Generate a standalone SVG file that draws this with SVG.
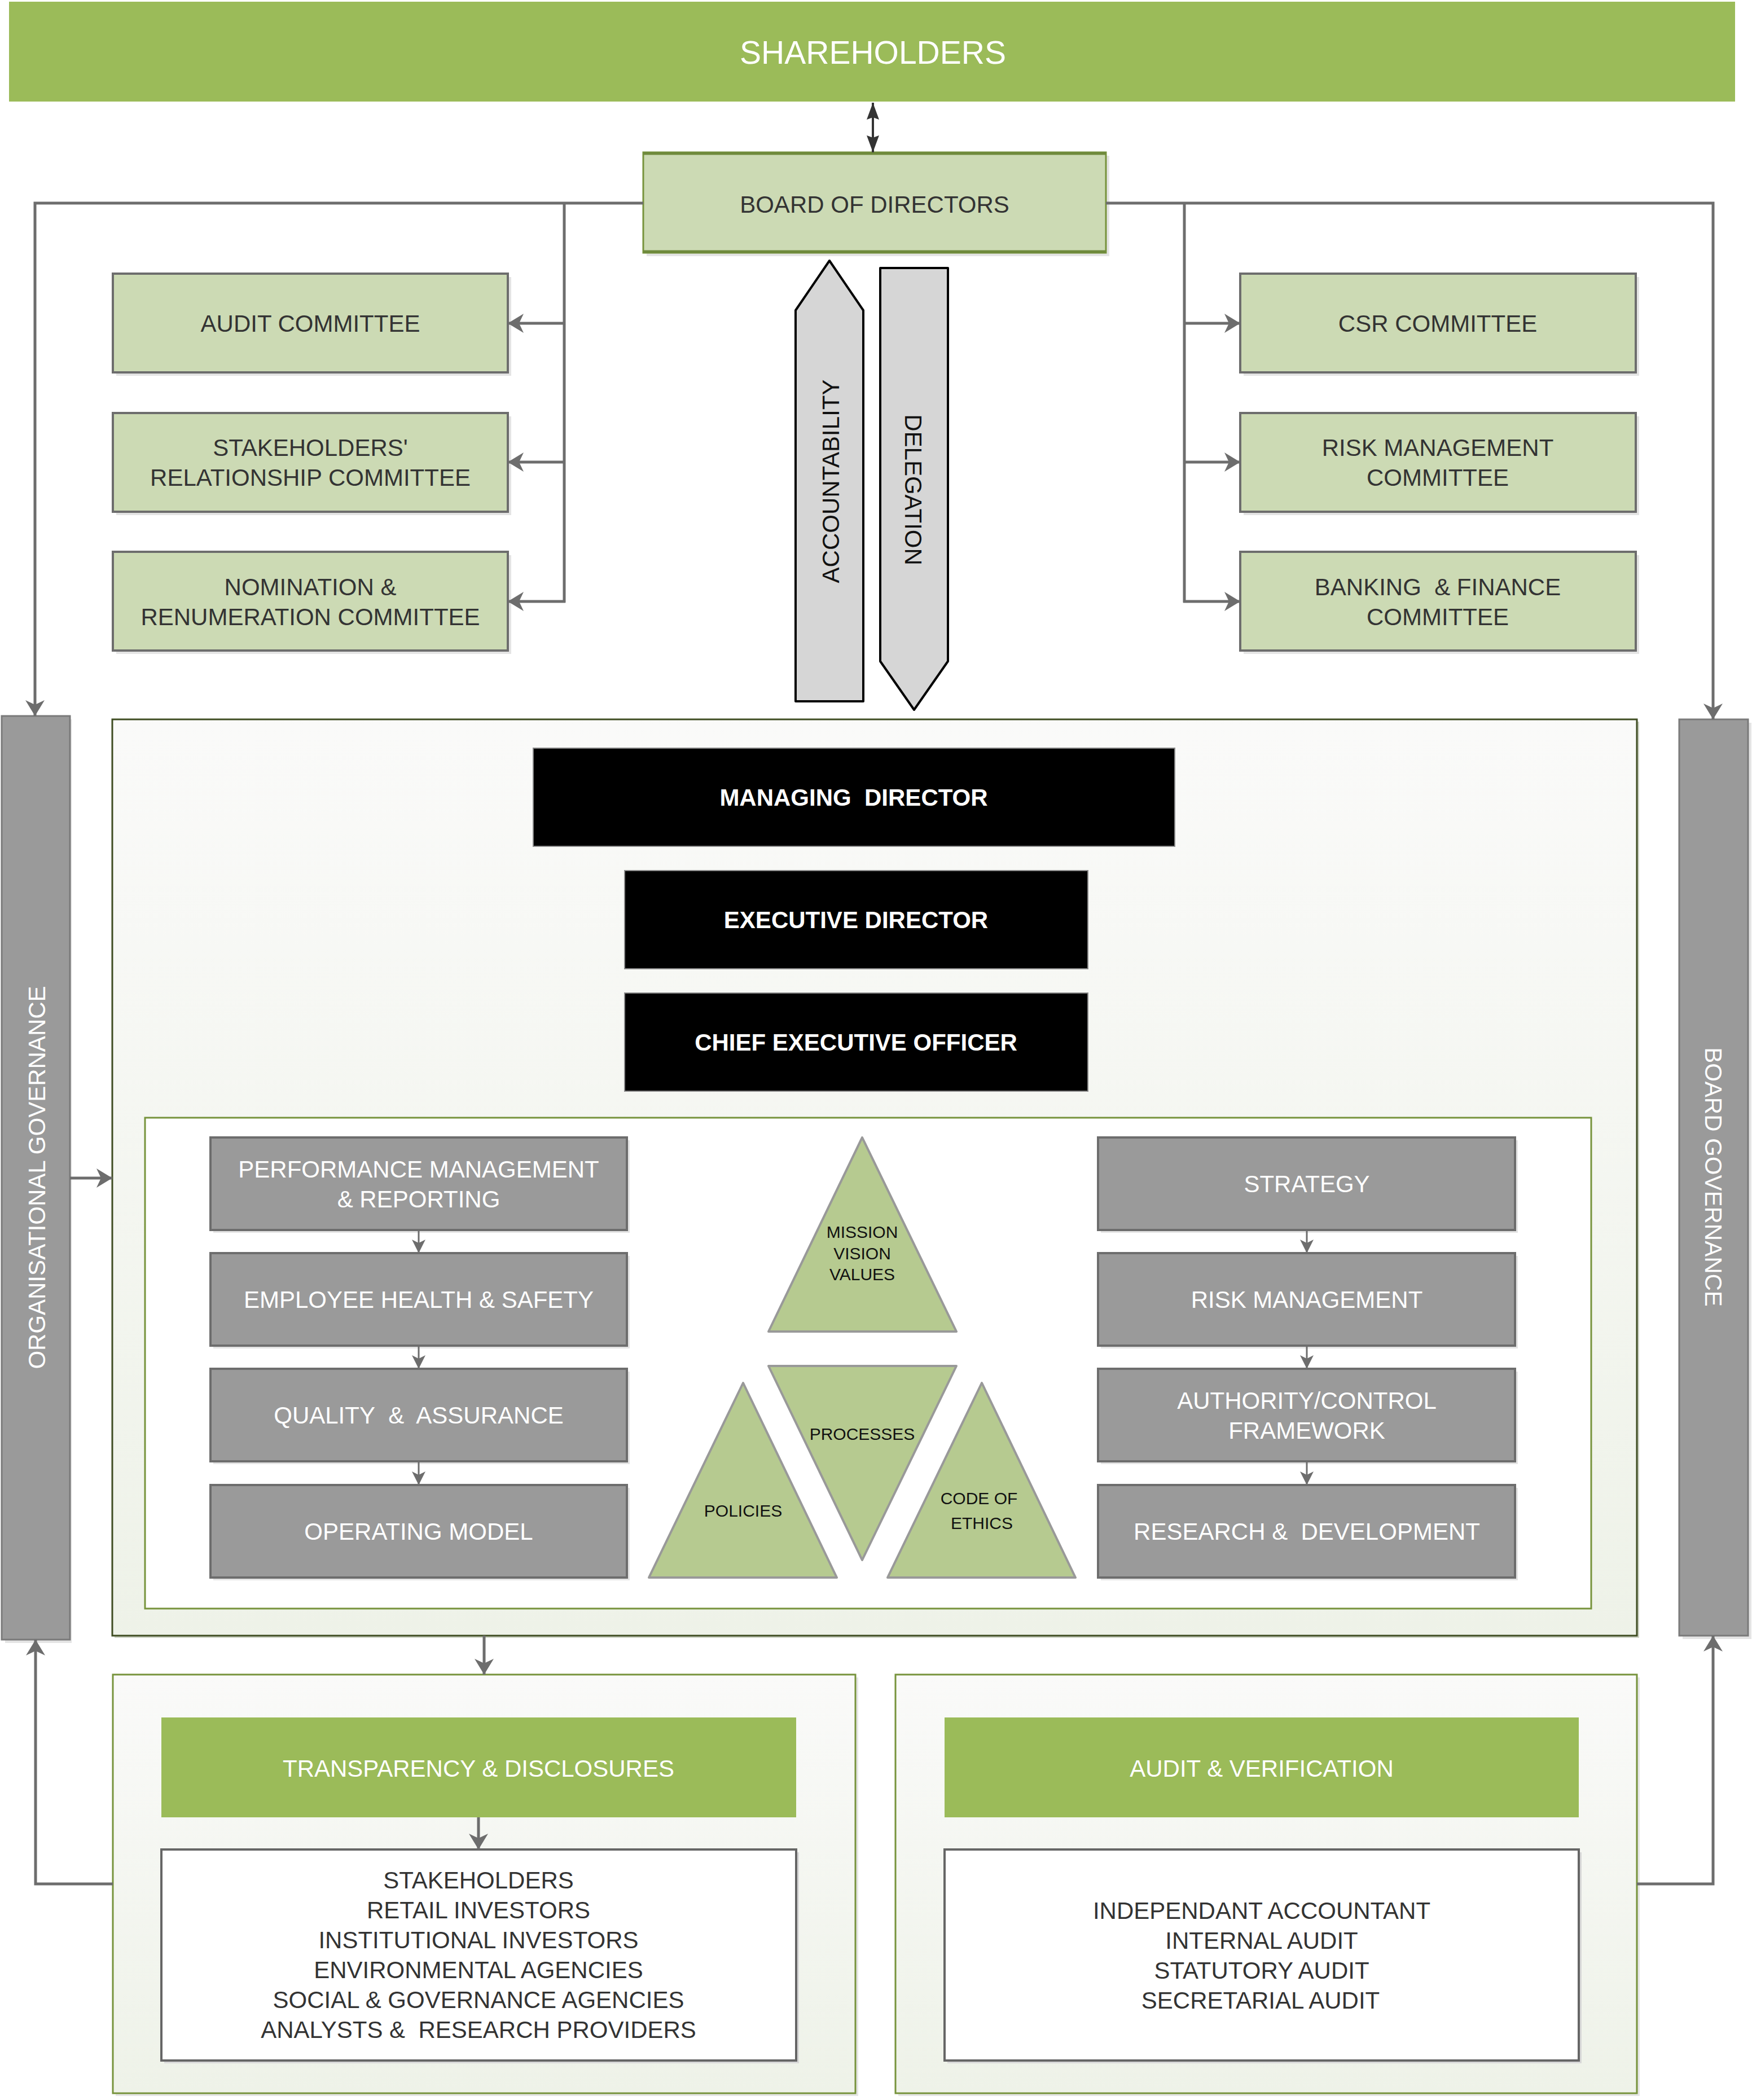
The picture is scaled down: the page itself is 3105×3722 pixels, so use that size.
<svg xmlns="http://www.w3.org/2000/svg" width="3105" height="3722" viewBox="0 0 3105 3722">
<style>
text{font-family:"Liberation Sans",Arial,Helvetica,sans-serif;text-anchor:middle;dominant-baseline:central;white-space:pre}
.t42{font-size:42px;fill:#333}
.w42{font-size:42px;fill:#fff}
.b42{font-size:42px;fill:#fff;font-weight:bold}
.k30{font-size:30px;fill:#111}
.k42{font-size:42px;fill:#111}
.comm{fill:#ccdab4;stroke:#6d6d6d;stroke-width:4}
.gbox{fill:#9a9a9a;stroke:#6d6d6d;stroke-width:4}
.blk{fill:#000;stroke:#8a8a8a;stroke-width:2}
.bar{fill:#9a9a9a;stroke:#7a7a7a;stroke-width:3}
.sh{fill:#e4e4e4}
.tri{fill:#b6ca90;stroke:#999;stroke-width:4;stroke-linejoin:round}
.ban{fill:#9bbb59}
.wbox{fill:#fff;stroke:#666;stroke-width:4}
.cont{stroke:#77933c;stroke-width:3}
.con{fill:none;stroke:#6d6d6d;stroke-width:5}
.cons{fill:none;stroke:#6d6d6d;stroke-width:3}
.pen{fill:#d6d6d6;stroke:#000;stroke-width:4;stroke-linejoin:round}
</style>
<defs>
<linearGradient id="gr" x1="0" y1="0" x2="0" y2="1">
<stop offset="0" stop-color="#fafaf9"/>
<stop offset="1" stop-color="#eef2e8"/>
</linearGradient>
<marker id="ah" markerWidth="30" markerHeight="36" refX="28" refY="18" orient="auto" markerUnits="userSpaceOnUse">
<path d="M28,18 L0,1 L8,18 L0,35 z" fill="#6d6d6d"/>
</marker>
<marker id="ahs" markerWidth="26" markerHeight="26" refX="24" refY="13" orient="auto" markerUnits="userSpaceOnUse">
<path d="M24,13 L0,1 L6,13 L0,25 z" fill="#6d6d6d"/>
</marker>
<marker id="ahd" markerWidth="32" markerHeight="24" refX="30" refY="12" orient="auto-start-reverse" markerUnits="userSpaceOnUse">
<path d="M30,12 L0,1 L4,12 L0,23 z" fill="#333"/>
</marker>
</defs>
<rect width="3105" height="3722" fill="#fff"/>

<g id="shareholders">
<rect x="16" y="3" width="3059" height="177" class="ban"/>
<text x="1547" y="93" style="font-size:57px;fill:#fff">SHAREHOLDERS</text>
</g>

<g id="board-of-directors">
<rect x="1146" y="276" width="820" height="178" class="sh"/>
<rect x="1140" y="270" width="820" height="178" fill="#ccdab4" stroke="#77933c" stroke-width="3"/>
<line x1="1140" y1="272" x2="1960" y2="272" stroke="#6f8a3c" stroke-width="5"/>
<line x1="1140" y1="446" x2="1960" y2="446" stroke="#6f8a3c" stroke-width="5"/>
<text x="1550" y="362" class="t42">BOARD OF DIRECTORS</text>
</g>

<g id="audit-committee">
<rect x="206" y="491" width="700" height="175" class="sh"/>
<rect x="200" y="485" width="700" height="175" class="comm"/>
<text x="550" y="573" class="t42">AUDIT COMMITTEE</text>
</g>
<g id="stakeholders-relationship-committee">
<rect x="206" y="738" width="700" height="175" class="sh"/>
<rect x="200" y="732" width="700" height="175" class="comm"/>
<text x="550" y="793" class="t42">STAKEHOLDERS'</text>
<text x="550" y="846" class="t42">RELATIONSHIP COMMITTEE</text>
</g>
<g id="nomination-committee">
<rect x="206" y="984" width="700" height="175" class="sh"/>
<rect x="200" y="978" width="700" height="175" class="comm"/>
<text x="550" y="1040" class="t42">NOMINATION &amp;</text>
<text x="550" y="1093" class="t42">RENUMERATION COMMITTEE</text>
</g>

<g id="csr-committee">
<rect x="2204" y="491" width="701" height="175" class="sh"/>
<rect x="2198" y="485" width="701" height="175" class="comm"/>
<text x="2548" y="573" class="t42">CSR COMMITTEE</text>
</g>
<g id="risk-management-committee">
<rect x="2204" y="738" width="701" height="175" class="sh"/>
<rect x="2198" y="732" width="701" height="175" class="comm"/>
<text x="2548" y="793" class="t42">RISK MANAGEMENT</text>
<text x="2548" y="846" class="t42">COMMITTEE</text>
</g>
<g id="banking-finance-committee">
<rect x="2204" y="984" width="701" height="175" class="sh"/>
<rect x="2198" y="978" width="701" height="175" class="comm"/>
<text x="2548" y="1040" class="t42">BANKING&#160; &amp; FINANCE</text>
<text x="2548" y="1093" class="t42">COMMITTEE</text>
</g>

<g id="accountability">
<polygon points="1470,462 1530,550 1530,1243 1410,1243 1410,550" class="pen"/>
<text transform="translate(1472,853) rotate(-90)" class="k42">ACCOUNTABILITY</text>
</g>
<g id="delegation">
<polygon points="1560,475 1680,475 1680,1172 1620,1258 1560,1172" class="pen"/>
<text transform="translate(1618,868) rotate(90)" class="k42">DELEGATION</text>
</g>

<g id="organisational-governance">
<rect x="9" y="1275" width="118" height="1637" class="sh"/>
<rect x="3" y="1269" width="121" height="1637" class="bar"/>
<text transform="translate(65,2087) rotate(-90)" class="w42">ORGANISATIONAL GOVERNANCE</text>
</g>
<g id="board-governance">
<rect x="2982" y="1281" width="122" height="1624" class="sh"/>
<rect x="2976" y="1275" width="122" height="1624" class="bar"/>
<text transform="translate(3036,2086) rotate(90)" class="w42">BOARD GOVERNANCE</text>
</g>

<g id="management-container">
<rect x="203" y="1279" width="2702" height="1624" fill="#cfd5c6"/>
<rect x="199" y="1275" width="2702" height="1624" fill="url(#gr)" stroke="#3f4d22" stroke-width="3"/>
<rect x="257" y="1981" width="2563" height="870" fill="#fff" class="cont"/>
</g>

<g id="managing-director">
<rect x="945" y="1326" width="1137" height="174" class="blk"/>
<text x="1513" y="1413" class="b42">MANAGING&#160; DIRECTOR</text>
</g>
<g id="executive-director">
<rect x="1107" y="1543" width="821" height="174" class="blk"/>
<text x="1517" y="1630" class="b42">EXECUTIVE DIRECTOR</text>
</g>
<g id="chief-executive-officer">
<rect x="1107" y="1760" width="821" height="174" class="blk"/>
<text x="1517" y="1847" class="b42">CHIEF EXECUTIVE OFFICER</text>
</g>

<g id="performance-management">
<rect x="378" y="2021" width="738" height="164" class="sh"/>
<rect x="373" y="2016" width="738" height="164" class="gbox"/>
<text x="742" y="2072" class="w42">PERFORMANCE MANAGEMENT</text>
<text x="742" y="2125" class="w42">&amp; REPORTING</text>
</g>
<g id="employee-health-safety">
<rect x="378" y="2226" width="738" height="164" class="sh"/>
<rect x="373" y="2221" width="738" height="164" class="gbox"/>
<text x="742" y="2303" class="w42">EMPLOYEE HEALTH &amp; SAFETY</text>
</g>
<g id="quality-assurance">
<rect x="378" y="2431" width="738" height="164" class="sh"/>
<rect x="373" y="2426" width="738" height="164" class="gbox"/>
<text x="742" y="2508" class="w42">QUALITY&#160; &amp;&#160; ASSURANCE</text>
</g>
<g id="operating-model">
<rect x="378" y="2637" width="738" height="164" class="sh"/>
<rect x="373" y="2632" width="738" height="164" class="gbox"/>
<text x="742" y="2714" class="w42">OPERATING MODEL</text>
</g>

<g id="strategy">
<rect x="1951" y="2021" width="739" height="164" class="sh"/>
<rect x="1946" y="2016" width="739" height="164" class="gbox"/>
<text x="2316" y="2098" class="w42">STRATEGY</text>
</g>
<g id="risk-management">
<rect x="1951" y="2226" width="739" height="164" class="sh"/>
<rect x="1946" y="2221" width="739" height="164" class="gbox"/>
<text x="2316" y="2303" class="w42">RISK MANAGEMENT</text>
</g>
<g id="authority-control-framework">
<rect x="1951" y="2431" width="739" height="164" class="sh"/>
<rect x="1946" y="2426" width="739" height="164" class="gbox"/>
<text x="2316" y="2482" class="w42">AUTHORITY/CONTROL</text>
<text x="2316" y="2535" class="w42">FRAMEWORK</text>
</g>
<g id="research-development">
<rect x="1951" y="2637" width="739" height="164" class="sh"/>
<rect x="1946" y="2632" width="739" height="164" class="gbox"/>
<text x="2316" y="2714" class="w42">RESEARCH &amp;&#160; DEVELOPMENT</text>
</g>

<g id="mission-vision-values">
<polygon points="1528,2016 1695,2360 1362,2360" class="tri"/>
<text x="1528" y="2183" class="k30">MISSION</text>
<text x="1528" y="2221" class="k30">VISION</text>
<text x="1528" y="2258" class="k30">VALUES</text>
</g>
<g id="processes">
<polygon points="1362,2421 1695,2421 1528,2765" class="tri"/>
<text x="1528" y="2541" class="k30">PROCESSES</text>
</g>
<g id="policies">
<polygon points="1317,2451 1483,2796 1150,2796" class="tri"/>
<text x="1317" y="2677" class="k30">POLICIES</text>
</g>
<g id="code-of-ethics">
<polygon points="1740,2451 1906,2796 1573,2796" class="tri"/>
<text x="1735" y="2655" class="k30">CODE OF</text>
<text x="1740" y="2699" class="k30">ETHICS</text>
</g>

<g id="transparency-disclosures">
<rect x="205" y="2973" width="1316" height="742" fill="#e6e6e6"/>
<rect x="200" y="2968" width="1316" height="742" fill="url(#gr)" class="cont"/>
<rect x="286" y="3044" width="1125" height="177" class="ban"/>
<text x="848" y="3134" class="w42">TRANSPARENCY &amp; DISCLOSURES</text>
<rect x="291" y="3283" width="1125" height="374" fill="#d8d8d8"/>
<rect x="286" y="3278" width="1125" height="374" class="wbox"/>
<text x="848" y="3332" class="t42">STAKEHOLDERS</text>
<text x="848" y="3385" class="t42">RETAIL INVESTORS</text>
<text x="848" y="3438" class="t42">INSTITUTIONAL INVESTORS</text>
<text x="848" y="3491" class="t42">ENVIRONMENTAL AGENCIES</text>
<text x="848" y="3544" class="t42">SOCIAL &amp; GOVERNANCE AGENCIES</text>
<text x="848" y="3597" class="t42">ANALYSTS &amp;&#160; RESEARCH PROVIDERS</text>
</g>

<g id="audit-verification">
<rect x="1592" y="2973" width="1314" height="742" fill="#e6e6e6"/>
<rect x="1587" y="2968" width="1314" height="742" fill="url(#gr)" class="cont"/>
<rect x="1674" y="3044" width="1124" height="177" class="ban"/>
<text x="2236" y="3134" class="w42">AUDIT &amp; VERIFICATION</text>
<rect x="1679" y="3283" width="1124" height="374" fill="#d8d8d8"/>
<rect x="1674" y="3278" width="1124" height="374" class="wbox"/>
<text x="2236" y="3386" class="t42">INDEPENDANT ACCOUNTANT</text>
<text x="2236" y="3439" class="t42">INTERNAL AUDIT</text>
<text x="2236" y="3492" class="t42">STATUTORY AUDIT</text>
<text x="2234" y="3545" class="t42">SECRETARIAL AUDIT</text>
</g>

<g id="connectors">
<line x1="1547" y1="182" x2="1547" y2="270" stroke="#333" stroke-width="4" marker-start="url(#ahd)" marker-end="url(#ahd)"/>
<polyline points="1140,360 62,360 62,1269" class="con" marker-end="url(#ah)"/>
<line x1="1000" y1="360" x2="1000" y2="1068" class="con"/>
<line x1="1002" y1="573" x2="900" y2="573" class="con" marker-end="url(#ah)"/>
<line x1="1002" y1="819" x2="900" y2="819" class="con" marker-end="url(#ah)"/>
<line x1="1002" y1="1066" x2="900" y2="1066" class="con" marker-end="url(#ah)"/>
<polyline points="1960,360 3036,360 3036,1275" class="con" marker-end="url(#ah)"/>
<line x1="2099" y1="360" x2="2099" y2="1068" class="con"/>
<line x1="2097" y1="573" x2="2198" y2="573" class="con" marker-end="url(#ah)"/>
<line x1="2097" y1="819" x2="2198" y2="819" class="con" marker-end="url(#ah)"/>
<line x1="2097" y1="1066" x2="2198" y2="1066" class="con" marker-end="url(#ah)"/>
<line x1="124" y1="2088" x2="199" y2="2088" class="con" marker-end="url(#ah)"/>
<line x1="742" y1="2180" x2="742" y2="2221" class="cons" marker-end="url(#ahs)"/>
<line x1="742" y1="2385" x2="742" y2="2426" class="cons" marker-end="url(#ahs)"/>
<line x1="742" y1="2590" x2="742" y2="2632" class="cons" marker-end="url(#ahs)"/>
<line x1="2316" y1="2180" x2="2316" y2="2221" class="cons" marker-end="url(#ahs)"/>
<line x1="2316" y1="2385" x2="2316" y2="2426" class="cons" marker-end="url(#ahs)"/>
<line x1="2316" y1="2590" x2="2316" y2="2632" class="cons" marker-end="url(#ahs)"/>
<line x1="858" y1="2899" x2="858" y2="2968" class="con" marker-end="url(#ah)"/>
<line x1="848" y1="3221" x2="848" y2="3278" class="con" marker-end="url(#ah)"/>
<polyline points="200,3339 63,3339 63,2906" class="con" marker-end="url(#ah)"/>
<polyline points="2901,3339 3036,3339 3036,2899" class="con" marker-end="url(#ah)"/>
</g>
</svg>
